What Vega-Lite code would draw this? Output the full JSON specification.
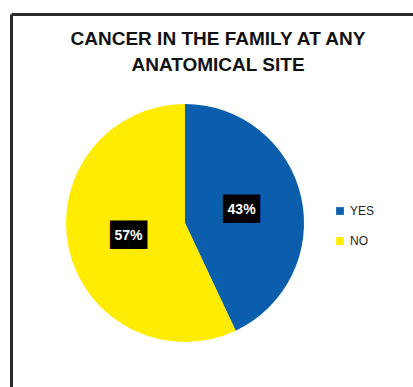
{
  "$schema": "https://vega.github.io/schema/vega-lite/v6.json",
  "autosize": "none",
  "width": 238,
  "height": 238,
  "padding": {"left": 66, "top": 104, "right": 109, "bottom": 45},
  "background": "white",
  "data": {"values": [
    {"answer": "YES", "value": 43, "label": "43%"},
    {"answer": "NO", "value": 57, "label": "57%"}
  ]},
  "title": {
    "text": ["CANCER IN THE FAMILY AT ANY", "ANATOMICAL SITE"],
    "font": "Liberation Sans",
    "fontSize": 19,
    "fontWeight": "bold",
    "color": "#111111",
    "anchor": "middle",
    "frame": "group",
    "dx": 33,
    "lineHeight": 26,
    "offset": -64
  },
  "config": {
    "view": {"stroke": null},
    "axis": {"ticks": false, "labels": false, "grid": false, "title": null, "domainColor": "#2a2a2a", "domainWidth": 3}
  },
  "layer": [
    {
      "mark": {"type": "point", "opacity": 0},
      "encoding": {
        "x": {"field": "value", "type": "quantitative", "scale": {"range": [-55, 360], "zero": false}, "axis": {"orient": "top", "offset": 90}},
        "y": {"field": "value", "type": "quantitative", "scale": {"range": [300, -90], "zero": false}, "axis": {"orient": "left", "offset": 55}}
      }
    },
    {
      "mark": {"type": "arc", "outerRadius": 119},
      "encoding": {
        "theta": {"field": "value", "type": "quantitative", "stack": true},
        "order": {"field": "value", "sort": "ascending"},
        "color": {
          "field": "answer", "type": "nominal",
          "scale": {"domain": ["YES", "NO"], "range": ["#0A5EAC", "#FFEC00"]},
          "legend": {
            "orient": "none", "legendX": 268, "legendY": 101,
            "title": null, "symbolType": "square", "symbolSize": 60,
            "labelFont": "Liberation Sans", "labelFontSize": 12, "labelColor": "#222222",
            "rowPadding": 18, "labelOffset": 4
          }
        }
      }
    },
    {
      "mark": {"type": "text", "radius": 58, "font": "DejaVu Sans", "fontSize": 24, "color": "black"},
      "encoding": {
        "theta": {"field": "value", "type": "quantitative", "stack": true},
        "order": {"field": "value", "sort": "ascending"},
        "text": {"value": "██"}
      }
    },
    {
      "mark": {"type": "text", "radius": 58, "font": "Liberation Sans", "fontSize": 14, "fontWeight": "bold", "color": "white"},
      "encoding": {
        "theta": {"field": "value", "type": "quantitative", "stack": true},
        "order": {"field": "value", "sort": "ascending"},
        "text": {"field": "label"}
      }
    }
  ]
}
